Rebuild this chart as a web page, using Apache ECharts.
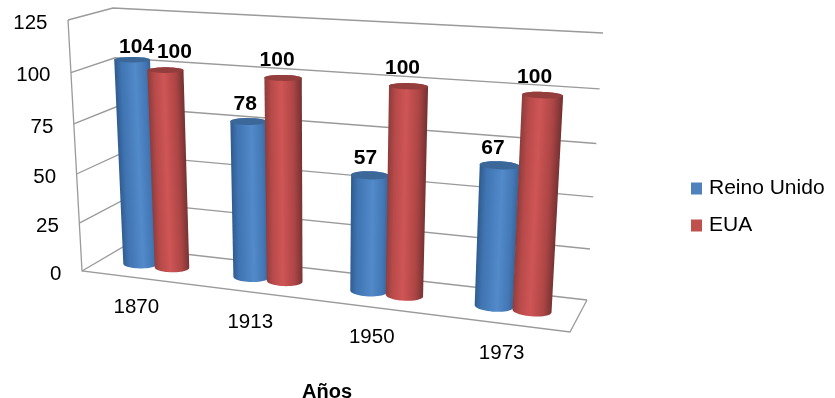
<!DOCTYPE html>
<html>
<head>
<meta charset="utf-8">
<style>html,body{margin:0;padding:0;background:#fff;overflow:hidden}#chart{width:835px;height:398px}</style>
<script src="https://cdn.jsdelivr.net/npm/echarts@6/dist/echarts.min.js"></script>
</head>
<body>
<div id="chart"></div>
<script>
// Chart data
const categories = ['1870', '1913', '1950', '1973'];
const reinoUnido = [104, 78, 57, 67];
const eua = [100, 100, 100, 100];
const yTicks = [0, 25, 50, 75, 100, 125];

// Layout of the flat grid that the value and category scales work in
const GRID = { left: 68, top: 8, width: 518, height: 324, outerBoundsMode: 'none' };

// Corners of the back wall and the front plane of the 3D box: [u, v] -> screen
const BACK_PLANE = [[123, 247], [587, 300], [603, 33], [113, 8]];
const FRONT_PLANE = [[82, 271], [570, 332], [587, 47.5], [68, 20]];

// Cylinder proportions in box units
const CYL_RU = 0.0365, CYL_RW = 0.17, CYL_DEPTH = 0.49, CYL_OFFSET = 0.0365, CYL_SHIFT = 0.0015;

const FONT = '"Liberation Sans", Arial, sans-serif';
const GRID_LINE = { stroke: '#9a9a9a', lineWidth: 1.3 };

// Homography taking the unit square onto a quadrilateral
function squareToQuad(q) {
  const [[x0, y0], [x1, y1], [x2, y2], [x3, y3]] = q;
  const dx1 = x1 - x2, dx2 = x3 - x2, sx = x0 - x1 + x2 - x3;
  const dy1 = y1 - y2, dy2 = y3 - y2, sy = y0 - y1 + y2 - y3;
  const den = dx1 * dy2 - dx2 * dy1;
  const g = (sx * dy2 - dx2 * sy) / den;
  const h = (dx1 * sy - sx * dy1) / den;
  const a = x1 - x0 + g * x1, b = x3 - x0 + h * x3;
  const d = y1 - y0 + g * y1, e = y3 - y0 + h * y3;
  return (u, v) => {
    const w = g * u + h * v + 1;
    return [(a * u + b * v + x0) / w, (d * u + e * v + y0) / w];
  };
}
const backPlane = squareToQuad(BACK_PLANE);
const frontPlane = squareToQuad(FRONT_PLANE);

// u: left to right, v: floor to top, w: 0 at the front plane, 1 at the back wall
function project(u, v, w) {
  const f = frontPlane(u, v), b = backPlane(u, v);
  return [f[0] + (b[0] - f[0]) * w, f[1] + (b[1] - f[1]) * w];
}

// Grid pixels from the axes converted to box units
function toBox(pt) {
  return [(pt[0] - GRID.left) / GRID.width, (GRID.top + GRID.height - pt[1]) / GRID.height];
}

function convexHull(points) {
  const p = points.slice().sort((a, b) => a[0] - b[0] || a[1] - b[1]);
  const cross = (o, a, b) => (a[0] - o[0]) * (b[1] - o[1]) - (a[1] - o[1]) * (b[0] - o[0]);
  const half = list => {
    const out = [];
    for (const q of list) {
      while (out.length > 1 && cross(out[out.length - 2], out[out.length - 1], q) <= 0) out.pop();
      out.push(q);
    }
    out.pop();
    return out;
  };
  return half(p).concat(half(p.slice().reverse()));
}

function ring(u, v) {
  const pts = [];
  for (let i = 0; i < 48; i++) {
    const t = i / 48 * Math.PI * 2;
    pts.push(project(u + CYL_RU * Math.cos(t), v, CYL_DEPTH + CYL_RW * Math.sin(t)));
  }
  return pts;
}

// Draws one cylinder with its value label
function cylinderSeries(name, values, offset, look, labelNudge) {
  return {
    type: 'custom',
    name,
    itemStyle: { color: look.legend },
    data: values.map((v, i) => [i, v]),
    encode: { x: 0, y: 1 },
    renderItem(params, api) {
      const i = api.value(0), val = api.value(1);
      const [u0] = toBox(api.coord([i, 0]));
      const u = u0 + offset + CYL_SHIFT;
      const [, vTop] = toBox(api.coord([i, val]));
      const top = ring(u, vTop), bottom = ring(u, 0);
      const hull = convexHull(top.concat(bottom));

      // Shading runs across the cylinder, square to its leaning axis
      const cTop = project(u, vTop, CYL_DEPTH), cBot = project(u, 0, CYL_DEPTH);
      const len = Math.hypot(cTop[0] - cBot[0], cTop[1] - cBot[1]);
      const nx = (cBot[1] - cTop[1]) / len, ny = (cTop[0] - cBot[0]) / len;
      const half = (Math.max(...top.map(p => p[0])) - Math.min(...top.map(p => p[0])) +
                    Math.max(...bottom.map(p => p[0])) - Math.min(...bottom.map(p => p[0]))) / 4;
      const mx = (cTop[0] + cBot[0]) / 2, my = (cTop[1] + cBot[1]) / 2;
      const sign = nx >= 0 ? 1 : -1;
      const fill = new echarts.graphic.LinearGradient(
        mx - sign * nx * half, my - sign * ny * half,
        mx + sign * nx * half, my + sign * ny * half,
        look.stops, true);

      const nudge = labelNudge[i];
      return {
        type: 'group',
        children: [
          { type: 'polygon', shape: { points: hull }, style: { fill } },
          { type: 'polygon', shape: { points: top }, style: { fill: look.cap } },
          { type: 'text', z2: 10, style: {
              text: String(val), x: cTop[0] + nudge[0], y: cTop[1] + nudge[1],
              align: 'center', verticalAlign: 'middle',
              fill: '#000', font: 'bold 21px ' + FONT } }
        ]
      };
    }
  };
}

const blueLook = {
  legend: '#4f81bd', cap: '#3c6899',
  stops: [
    { offset: 0, color: '#2f5c90' }, { offset: 0.18, color: '#4074b2' },
    { offset: 0.58, color: '#528aca' }, { offset: 0.85, color: '#4478b6' },
    { offset: 1, color: '#38659b' }
  ]
};
const redLook = {
  legend: '#c0504d', cap: '#933d3c',
  stops: [
    { offset: 0, color: '#8f3c3c' }, { offset: 0.18, color: '#b84a4a' },
    { offset: 0.45, color: '#cf5555' }, { offset: 0.78, color: '#ad4545' },
    { offset: 1, color: '#763232' }
  ]
};

// Small shifts of the value labels from the top of their cylinder
const blueNudge = [[4.5, -12.5], [-3.5, -17], [-4.5, -17], [-6.5, -17]];
const redNudge = [[9, -17.5], [-6, -17.5], [-6, -18], [-8, -17.5]];

const option = {
  animation: false,
  backgroundColor: '#fff',
  grid: GRID,
  xAxis: {
    type: 'category',
    data: categories,
    name: 'Años',
    nameLocation: 'middle',
    nameGap: 50,
    nameTextStyle: { color: '#000', fontWeight: 'bold', fontSize: 20, fontFamily: FONT },
    axisLine: { show: false },
    axisTick: { show: false },
    axisLabel: { show: false },
    splitLine: { show: false }
  },
  yAxis: {
    type: 'value', min: 0, max: 125, interval: 25,
    axisLine: { show: false },
    axisTick: { show: false },
    axisLabel: { show: false },
    splitLine: { show: false }
  },
  legend: {
    orient: 'vertical',
    left: 686,
    top: 173,
    icon: 'rect',
    itemWidth: 11,
    itemHeight: 12,
    itemGap: 16,
    selectedMode: false,
    textStyle: { color: '#000', fontSize: 21, fontFamily: FONT, padding: [0, 0, 0, 2] },
    data: ['Reino Unido', 'EUA']
  },
  series: [
    // Back wall and left wall gridlines with the value labels
    {
      type: 'custom',
      silent: true,
      data: yTicks.map(t => [0, t]),
      encode: { x: 0, y: 1 },
      renderItem(params, api) {
        const tick = api.value(1);
        const [, v] = toBox(api.coord([0, tick]));
        const a = project(0, v, 0), b = project(0, v, 1), c = project(1, v, 1);
        return {
          type: 'group',
          children: [
            { type: 'polyline', shape: { points: [a, b, c] }, style: { ...GRID_LINE, fill: null } },
            { type: 'text', style: {
                text: String(tick), x: a[0] - 20.5, y: a[1] + 3,
                align: 'right', verticalAlign: 'middle',
                fill: '#000', font: '20.5px ' + FONT } }
          ]
        };
      }
    },
    // Floor outline, left edge and category labels
    {
      type: 'custom',
      silent: true,
      data: categories.map((c, i) => [i, 0]),
      encode: { x: 0, y: 1 },
      renderItem(params, api) {
        const i = api.value(0);
        const [u] = toBox(api.coord([i, 0]));
        const at = project(u, 0, 0);
        const children = [
          { type: 'text', style: {
              text: categories[i], x: at[0], y: at[1] + 30,
              align: 'center', verticalAlign: 'middle',
              fill: '#000', font: '20.5px ' + FONT } }
        ];
        if (i === 0) {
          children.push({
            type: 'polyline',
            shape: { points: [project(0, 1, 0), project(0, 0, 0), project(1, 0, 0), project(1, 0, 1)] },
            style: { ...GRID_LINE, fill: null }
          });
        }
        return { type: 'group', children };
      }
    },
    cylinderSeries('Reino Unido', reinoUnido, -CYL_OFFSET, blueLook, blueNudge),
    cylinderSeries('EUA', eua, CYL_OFFSET, redLook, redNudge)
  ]
};

echarts.init(document.getElementById('chart'), null, { renderer: 'canvas' }).setOption(option);
</script>
</body>
</html>
